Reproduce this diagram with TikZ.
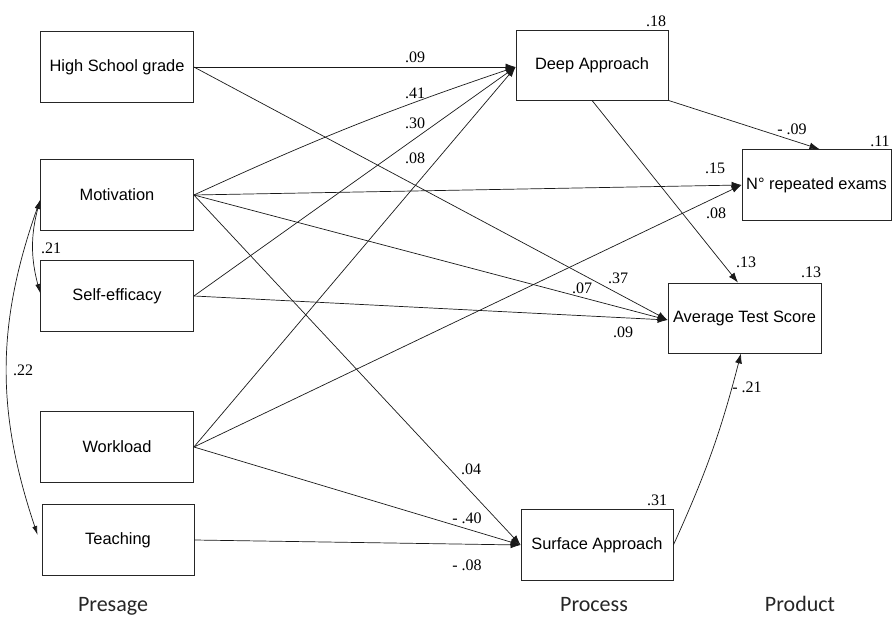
\documentclass[tikz,border=0pt]{standalone}
\usepackage{fontspec}
\setmainfont{Liberation Serif}
\newfontfamily\boxfont{Liberation Sans}
\newfontfamily\stagefont{Carlito}
\usetikzlibrary{arrows.meta}

\begin{document}
\begin{tikzpicture}[x=1pt,y=-1pt,
  varbox/.style={draw=black!85, line width=0.8pt, minimum width=153pt, minimum height=71pt, inner sep=0pt, font=\boxfont\fontsize{16.4}{18}\selectfont},
  pathline/.style={draw=black!90, line width=0.7pt, -{Latex[length=10pt,width=7pt]}},
  corr/.style={draw=black!90, line width=0.7pt, {Latex[length=9pt,width=5pt]}-{Latex[length=9pt,width=5pt]}},
  coef/.style={inner sep=0pt, font=\fontsize{16}{18}\selectfont},
  stage/.style={inner sep=0pt, anchor=base, font=\stagefont\fontsize{22}{24}\selectfont, text=black!85}]
\useasboundingbox (0,0) rectangle (892,617);

% variables
\node[varbox] (hsg) at (117,67) {High School grade};
\node[varbox] (mot) at (117,195) {Motivation};
\node[varbox] (self) at (117,296) {Self-efficacy};
\node[varbox] (work) at (117,447) {Workload};
\node[varbox, minimum width=152pt] (teach) at (118,540) {Teaching};
\node[varbox, minimum width=152pt, minimum height=70pt] (deep) at (592,65) {Deep Approach};
\node[varbox, minimum width=149pt] (rep) at (816.5,185) {N° repeated exams};
\node[varbox, minimum height=70pt] (ats) at (744.5,318) {Average Test Score};
\node[varbox, minimum width=152pt] (surf) at (597,545) {Surface Approach};

% entry points
\coordinate (deepIn) at ([yshift=-2pt]deep.west);
\coordinate (atsIn) at ([yshift=-2pt]ats.west);
\coordinate (repIn) at (rep.west);
\coordinate (surfIn) at (surf.west);

% paths
\draw[pathline] (hsg.east) -- (deepIn);
\draw[pathline] (hsg.east) -- (atsIn);
\draw[pathline] (mot.east) to[bend left=3] (deepIn);
\draw[pathline] (mot.east) -- (repIn);
\draw[pathline] (mot.east) -- (atsIn);
\draw[pathline] (mot.east) -- (surfIn);
\draw[pathline] (self.east) -- (deepIn);
\draw[pathline] (self.east) -- (atsIn);
\draw[pathline] (work.east) -- (deepIn);
\draw[pathline] (work.east) -- (repIn);
\draw[pathline] (work.east) -- (surfIn);
\draw[pathline] (teach.east) -- (surfIn);
\draw[pathline] (deep.south east) -- ([xshift=3pt]rep.north);
\draw[pathline] (deep.south) -- ([xshift=-6.5pt]ats.north);
\draw[pathline] (surf.east) to[bend right=5] ([xshift=-3.5pt]ats.south);

% correlations
\draw[corr] ([yshift=-5pt]mot.west) to[bend right=15] ([yshift=3pt]self.west);
\draw[corr] ([yshift=-5pt]mot.west) to[bend right=19] ([xshift=-4pt,yshift=5pt]teach.west);

% coefficients
\node[coef] (c1) at (415,57) {.09};
\node[coef] (c2) at (415,93) {.41};
\node[coef] (c3) at (415,123) {.30};
\node[coef] (c4) at (415,158) {.08};
\node[coef] (c5) at (582,288) {.07};
\node[coef] (c6) at (618,278) {.37};
\node[coef] (c7) at (792,129) {- .09};
\node[coef] (c8) at (880,141) {.11};
\node[coef] (c9) at (715,168) {.15};
\node[coef] (c10) at (716,213) {.08};
\node[coef] (c11) at (746,262) {.13};
\node[coef] (c12) at (811,272) {.13};
\node[coef] (c13) at (656,21) {.18};
\node[coef] (c14) at (623,332) {.09};
\node[coef] (c15) at (747,387) {- .21};
\node[coef] (c16) at (657,500) {.31};
\node[coef] (c17) at (471,469) {.04};
\node[coef] (c18) at (467,518) {- .40};
\node[coef] (c19) at (467,565) {- .08};
\node[coef] (c20) at (51,248) {.21};
\node[coef] (c21) at (23,370) {.22};

% stages
\node[stage] (s1) at (113,611) {Presage};
\node[stage] (s2) at (594,611) {Process};
\node[stage] (s3) at (800,611) {Product};
\end{tikzpicture}
\end{document}
